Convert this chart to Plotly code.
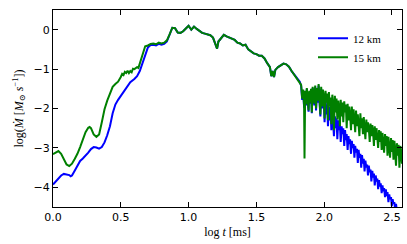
import plotly.graph_objects as go

# ---- data (log t [ms], log Mdot) ----
t12_early = [0.00, 0.02, 0.04, 0.06, 0.08, 0.10, 0.12, 0.13, 0.14, 0.16, 0.18, 0.20, 0.22, 0.24,
             0.26, 0.28, 0.30, 0.32, 0.34, 0.36, 0.38, 0.40, 0.42, 0.44, 0.46, 0.48, 0.50, 0.52,
             0.53, 0.55, 0.57, 0.60, 0.62, 0.64, 0.66, 0.68, 0.70]
m12_early = [-3.93, -3.86, -3.78, -3.70, -3.66, -3.67, -3.69, -3.72, -3.70, -3.58, -3.45, -3.33,
             -3.27, -3.20, -3.12, -3.03, -2.98, -2.99, -3.02, -2.98, -2.86, -2.68, -2.45, -2.12,
             -1.90, -1.78, -1.68, -1.58, -1.54, -1.42, -1.33, -1.25, -1.18, -1.05, -0.85, -0.60, -0.45]

t15_early = [0.00, 0.02, 0.04, 0.06, 0.08, 0.10, 0.12, 0.14, 0.16, 0.18, 0.20, 0.22, 0.24, 0.26,
             0.27, 0.28, 0.30, 0.32, 0.34, 0.36, 0.38, 0.40, 0.42, 0.44, 0.46, 0.48, 0.50, 0.51,
             0.52, 0.53, 0.54, 0.55, 0.56, 0.57, 0.58, 0.59, 0.60, 0.62, 0.63, 0.64, 0.65, 0.66,
             0.67, 0.68, 0.70]
m15_early = [-3.16, -3.12, -3.08, -3.15, -3.28, -3.42, -3.46, -3.40, -3.28, -3.15, -2.98, -2.80,
             -2.60, -2.49, -2.47, -2.50, -2.66, -2.72, -2.66, -2.35, -2.02, -1.80, -1.62, -1.45,
             -1.38, -1.32, -1.20, -1.12, -1.15, -1.07, -1.10, -1.04, -1.10, -1.05, -1.08, -0.99,
             -1.00, -0.95, -0.97, -0.85, -0.72, -0.65, -0.52, -0.42, -0.40]

t_mid = [0.72, 0.74, 0.76, 0.78, 0.80, 0.82, 0.84, 0.86, 0.88, 0.90, 0.92, 0.94, 0.96, 0.98,
         1.00, 1.02, 1.04, 1.06, 1.08, 1.10, 1.12, 1.14, 1.16, 1.18, 1.20, 1.21, 1.22, 1.24,
         1.26, 1.28, 1.30, 1.32, 1.34, 1.36, 1.38, 1.40, 1.42, 1.44, 1.46, 1.48, 1.50, 1.52,
         1.54, 1.56, 1.58, 1.60, 1.61, 1.62, 1.63, 1.64, 1.66, 1.68, 1.70, 1.72, 1.74, 1.76,
         1.78, 1.80, 1.82]
m_mid = [-0.36, -0.35, -0.37, -0.33, -0.35, -0.33, -0.27, -0.12, 0.05, 0.04, -0.07, -0.08,
         -0.04, 0.03, 0.10, 0.00, 0.08, 0.02, -0.03, -0.08, -0.10, -0.12, -0.14, -0.20, -0.38,
         -0.48, -0.30, -0.22, -0.13, -0.17, -0.20, -0.24, -0.26, -0.33, -0.35, -0.40, -0.38,
         -0.50, -0.55, -0.60, -0.62, -0.66, -0.66, -0.73, -0.85, -0.95, -1.18, -1.05, -1.20,
         -1.02, -0.95, -0.90, -0.86, -0.88, -0.94, -1.05, -1.15, -1.25, -1.32]
m12_mid_offset = [-0.03, -0.03, -0.03, -0.03, -0.03, -0.03, -0.03, -0.02]

t15_tail = [1.830, 1.838, 1.845, 1.852, 1.855, 1.860, 1.866, 1.872, 1.878, 1.885, 1.890, 1.896,
            1.903, 1.909, 1.915, 1.922, 1.928, 1.934, 1.940, 1.947, 1.953, 1.959, 1.966, 1.972,
            1.978, 1.984, 1.991, 1.997, 2.003, 2.010, 2.016, 2.022, 2.028, 2.035, 2.041, 2.047,
            2.053, 2.060, 2.066, 2.072, 2.079, 2.085, 2.091, 2.097, 2.104, 2.110, 2.116, 2.122,
            2.129, 2.135, 2.141, 2.148, 2.154, 2.160, 2.166, 2.173, 2.179, 2.185, 2.191, 2.198,
            2.204, 2.210, 2.217, 2.223, 2.229, 2.235, 2.242, 2.248, 2.254, 2.260, 2.267, 2.273,
            2.279, 2.286, 2.292, 2.298, 2.304, 2.311, 2.317, 2.323, 2.329, 2.336, 2.342, 2.348,
            2.355, 2.361, 2.367, 2.373, 2.380, 2.386, 2.392, 2.398, 2.405, 2.411, 2.417, 2.424,
            2.430, 2.436, 2.442, 2.449, 2.455, 2.461, 2.467, 2.474, 2.480, 2.486, 2.493, 2.499,
            2.505, 2.511, 2.518, 2.524, 2.530, 2.536, 2.543, 2.549, 2.555, 2.562, 2.568, 2.574,
            2.580]
m15_tail = [-1.40, -1.75, -1.52, -1.95, -3.27, -1.55, -1.90, -1.48, -1.70, -2.05, -1.55, -1.85,
            -1.50, -2.10, -1.45, -1.62, -1.88, -1.42, -2.00, -1.48, -1.80, -1.38, -1.72, -2.15,
            -1.45, -1.95, -1.52, -1.70, -2.25, -1.55, -1.85, -1.62, -2.30, -1.58, -1.95, -1.72,
            -2.40, -1.65, -1.88, -2.55, -1.68, -2.10, -1.75, -2.28, -1.80, -2.00, -2.45, -1.78,
            -2.20, -1.85, -2.35, -1.82, -2.10, -1.90, -2.50, -1.88, -2.30, -1.95, -2.15, -2.55,
            -1.95, -2.40, -2.02, -2.25, -2.60, -2.05, -2.45, -2.15, -2.35, -2.70, -2.12, -2.50,
            -2.25, -2.65, -2.22, -2.45, -2.78, -2.28, -2.60, -2.35, -2.50, -2.85, -2.38, -2.70,
            -2.42, -2.62, -2.95, -2.45, -2.80, -2.50, -2.72, -3.00, -2.55, -2.85, -2.58, -3.05,
            -2.62, -2.80, -3.12, -2.65, -2.95, -2.70, -3.20, -2.72, -2.92, -3.25, -2.75, -3.10,
            -2.80, -3.30, -2.82, -3.05, -3.45, -2.88, -3.20, -2.92, -3.50, -2.95, -3.25, -3.40,
            -3.00]

t12_tail = [1.830, 1.838, 1.845, 1.852, 1.860, 1.866, 1.872, 1.878, 1.885, 1.890, 1.896, 1.903,
            1.909, 1.915, 1.922, 1.928, 1.934, 1.940, 1.947, 1.953, 1.959, 1.966, 1.972, 1.978,
            1.984, 1.991, 1.997, 2.003, 2.010, 2.016, 2.022, 2.028, 2.035, 2.041, 2.047, 2.053,
            2.060, 2.066, 2.072, 2.079, 2.085, 2.091, 2.097, 2.104, 2.110, 2.116, 2.122, 2.129,
            2.135, 2.141, 2.148, 2.154, 2.160, 2.166, 2.173, 2.179, 2.185, 2.191, 2.198, 2.204,
            2.210, 2.217, 2.223, 2.229, 2.235, 2.242, 2.248, 2.254, 2.260, 2.267, 2.273, 2.279,
            2.286, 2.292, 2.298, 2.304, 2.311, 2.317, 2.323, 2.329, 2.336, 2.342, 2.348, 2.355,
            2.361, 2.367, 2.373, 2.380, 2.386, 2.392, 2.398, 2.405, 2.411, 2.417, 2.424, 2.430,
            2.436, 2.442, 2.449, 2.455, 2.461, 2.467, 2.474, 2.480, 2.486, 2.493, 2.499, 2.505,
            2.511, 2.518, 2.524, 2.530, 2.536, 2.543]
m12_tail = [-1.42, -1.78, -1.55, -1.98, -1.58, -1.92, -1.50, -1.72, -2.08, -1.58, -1.88, -1.52,
            -2.12, -1.48, -1.65, -1.92, -1.45, -2.05, -1.52, -1.85, -1.42, -1.78, -2.20, -1.50,
            -2.00, -1.58, -1.80, -2.35, -1.75, -2.15, -1.90, -2.45, -1.95, -2.30, -2.05, -2.55,
            -2.10, -2.35, -2.70, -2.20, -2.50, -2.25, -2.78, -2.30, -2.55, -2.40, -2.85, -2.45,
            -2.65, -2.50, -2.95, -2.55, -2.80, -2.65, -3.05, -2.70, -2.90, -2.78, -3.15, -2.82,
            -3.00, -2.90, -3.25, -2.95, -3.12, -3.02, -3.38, -3.05, -3.25, -3.15, -3.50, -3.18,
            -3.40, -3.28, -3.60, -3.32, -3.50, -3.42, -3.70, -3.45, -3.62, -3.55, -3.85, -3.58,
            -3.75, -3.65, -3.95, -3.70, -3.85, -3.78, -4.05, -3.82, -3.98, -3.90, -4.15, -3.95,
            -4.10, -4.02, -4.25, -4.05, -4.22, -4.12, -4.38, -4.18, -4.30, -4.25, -4.48, -4.30,
            -4.42, -4.38, -4.60, -4.42, -4.60, -4.60]

x_ticks = [0.0, 0.5, 1.0, 1.5, 2.0, 2.5]
y_ticks = [-4, -3, -2, -1, 0]

# ---- assemble series ----
m12_mid = [v + (m12_mid_offset[i] if i < len(m12_mid_offset) else 0.0) for i, v in enumerate(m_mid)]
t12 = t12_early + t_mid + t12_tail
m12 = m12_early + m12_mid + m12_tail
t15 = t15_early + t_mid + t15_tail
m15 = m15_early + m_mid + m15_tail

fig = go.Figure()
fig.add_trace(go.Scatter(x=t12, y=m12, mode="lines", name="12 km",
                         line=dict(color="#0000ff", width=2)))
fig.add_trace(go.Scatter(x=t15, y=m15, mode="lines", name="15 km",
                         line=dict(color="#008000", width=2)))

serif = "Liberation Serif, DejaVu Serif, serif"
sans = "DejaVu Sans, sans-serif"

axis_common = dict(showline=True, linecolor="black", linewidth=1, mirror="ticks",
                   ticks="inside", ticklen=5, tickcolor="black", tickwidth=1,
                   showgrid=False, zeroline=False, automargin=False,
                   tickfont=dict(family=sans, size=11, color="black"))

fig.update_layout(
    width=407, height=244,
    margin=dict(l=53, r=5, t=10, b=37, autoexpand=False),
    paper_bgcolor="white", plot_bgcolor="white",
    showlegend=True,
    legend=dict(x=0.745, y=0.93, xanchor="left", yanchor="top",
                bgcolor="rgba(0,0,0,0)", borderwidth=0,
                font=dict(family=serif, size=11, color="black"),
                itemwidth=30, tracegroupgap=0),
    xaxis=dict(range=[0, 2.574], tickvals=x_ticks, tickformat=".1f",
               title=dict(text="log <i>t</i> [ms]", font=dict(family=serif, size=12, color="black"),
                          standoff=4),
               **axis_common),
    yaxis=dict(range=[-4.5, 0.5], tickvals=y_ticks, **axis_common),
    annotations=[dict(text="log(<i>Ṁ</i> [<i>M</i><sub>⊙</sub> <i>s</i><sup>−1</sup>])",
                      xref="paper", yref="paper", x=0, y=0.5, xshift=-34,
                      xanchor="center", yanchor="middle", textangle=-90, showarrow=False,
                      font=dict(family=serif, size=12, color="black"))],
)

fig.write_html("out.html", config={"displayModeBar": False},
               post_script="document.body.style.margin='0';")
